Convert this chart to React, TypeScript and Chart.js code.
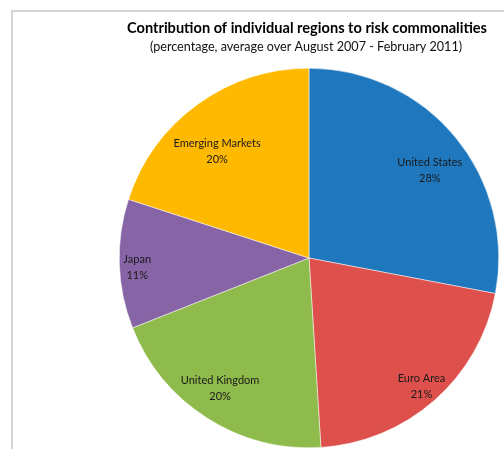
import React, { useEffect, useRef } from "react";
import { Chart, registerables } from "chart.js";

Chart.register(...registerables);

const TITLE = "Contribution of individual regions to risk commonalities";
const SUBTITLE = "(percentage, average over August 2007 - February 2011)";
const REGIONS = ["United States", "Euro Area", "United Kingdom", "Japan", "Emerging Markets"];
const SHARES = [28, 21, 20, 11, 20];
const COLORS = ["#1f78be", "#dd504b", "#8fba4c", "#8664a6", "#ffb900"];
// label placement (fraction of radius, angular shift in degrees), layout only
const LABEL_RADIUS = [0.787, 0.9, 0.834, 0.907, 0.743];
const LABEL_SHIFT = [3.6, 0.2, 1.8, -1.5, -4.7];

const FONT = "Lato, 'Open Sans', sans-serif";

const decorPlugin = {
  id: "decor",
  beforeDraw(chart: any) {
    const ctx = chart.ctx;
    ctx.save();
    ctx.fillStyle = "#ffffff";
    ctx.fillRect(0, 0, chart.width, chart.height);
    ctx.strokeStyle = "#d4d4d4";
    ctx.lineWidth = 2;
    ctx.beginPath();
    ctx.moveTo(12, chart.height + 2);
    ctx.lineTo(12, 11);
    ctx.lineTo(chart.width + 2, 11);
    ctx.stroke();
    ctx.fillStyle = "#000000";
    ctx.textAlign = "center";
    ctx.textBaseline = "middle";
    ctx.font = "bold 14.6px " + FONT;
    ctx.fillText(TITLE, 307, 28);
    ctx.fillStyle = "#111111";
    ctx.font = "12.6px " + FONT;
    ctx.fillText(SUBTITLE, 306, 47);
    ctx.restore();
  },
  afterDatasetsDraw(chart: any) {
    const ctx = chart.ctx;
    const meta = chart.getDatasetMeta(0);
    ctx.save();
    ctx.fillStyle = "#1a1a1a";
    ctx.textAlign = "center";
    ctx.textBaseline = "middle";
    ctx.font = "11px " + FONT;
    meta.data.forEach((arc: any, i: number) => {
      const p = arc.getProps(["x", "y", "startAngle", "endAngle", "outerRadius"], true);
      const mid = (p.startAngle + p.endAngle) / 2 + (LABEL_SHIFT[i] * Math.PI) / 180;
      const r = p.outerRadius * LABEL_RADIUS[i];
      const x = p.x + Math.cos(mid) * r;
      const y = p.y + Math.sin(mid) * r;
      ctx.fillText(REGIONS[i], x, y - 8);
      ctx.fillText(SHARES[i] + "%", x, y + 8);
    });
    ctx.restore();
  },
};

export default function App() {
  const ref = useRef<HTMLCanvasElement | null>(null);
  useEffect(() => {
    if (!ref.current) return;
    const chart = new Chart(ref.current, {
      type: "pie",
      data: {
        labels: REGIONS,
        datasets: [
          {
            data: SHARES,
            backgroundColor: COLORS,
            borderColor: "#ffffff",
            borderWidth: 0.5,
          },
        ],
      },
      options: {
        responsive: false,
        animation: false,
        layout: { padding: { left: 119, right: 5, top: 68, bottom: 1 } },
        plugins: {
          legend: { display: false },
          title: { display: false },
          tooltip: { enabled: false },
        },
      },
      plugins: [decorPlugin],
    });
    return () => chart.destroy();
  }, []);
  return (
    <div style={{ position: "fixed", left: 0, top: 0, width: 504, height: 449, background: "#fff" }}>
      <canvas ref={ref} width={504} height={449} style={{ display: "block" }} />
    </div>
  );
}
